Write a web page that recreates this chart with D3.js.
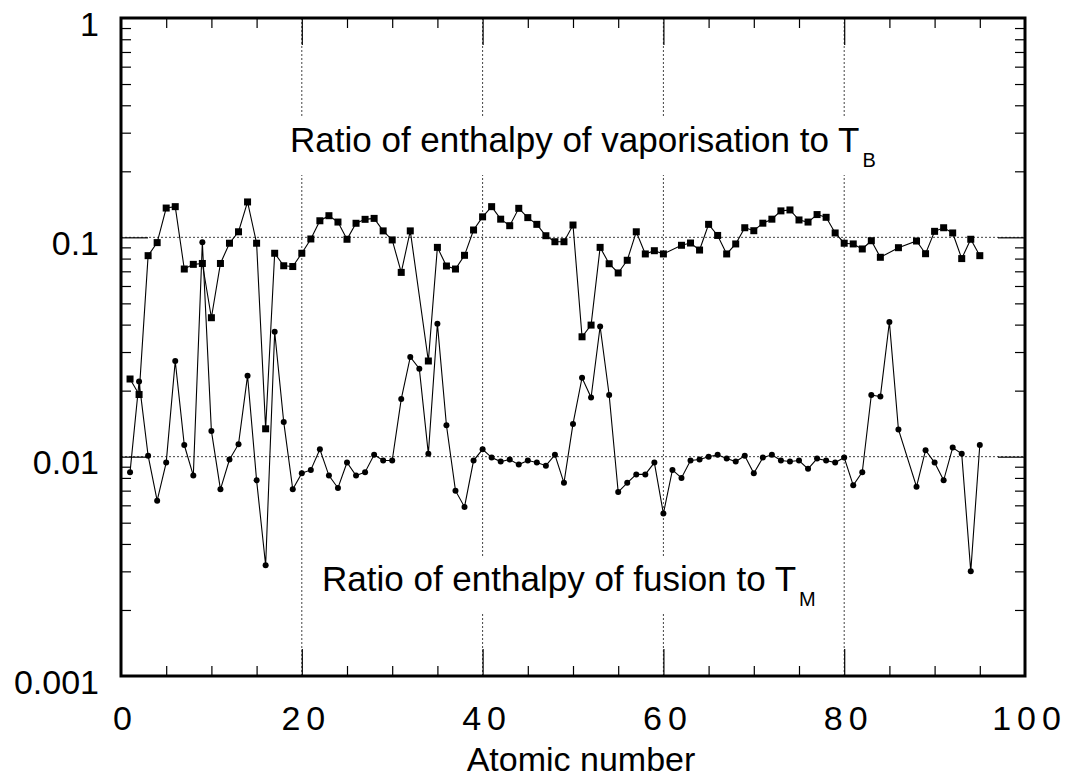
<!DOCTYPE html>
<html>
<head>
<meta charset="utf-8">
<script src="https://cdn.jsdelivr.net/npm/d3@7"></script>
<style>
  body { margin: 0; background: #fff; }
  svg text { font-family: "Liberation Sans", Arial, Helvetica, sans-serif; fill: #000; }
</style>
</head>
<body>
<div id="chart"></div>
<script>
// data
var fusionZ = [1,2,3,4,5,6,7,8,9,10,11,12,13,14,15,16,17,18,19,20,
  21,22,23,24,25,26,27,28,29,30,31,32,33,34,35,36,37,38,39,40,
  41,42,43,44,45,46,47,48,49,50,51,52,53,54,55,56,57,58,59,60,
  61,62,63,64,65,66,67,68,69,70,71,72,73,74,75,76,77,78,79,80,
  81,82,83,84,85,86,88,89,90,91,92,93,94,95];
var fusionRatio = [0.0085,0.022,0.0101,0.0063,0.0094,0.0273,0.0113,0.0082,0.095,0.0131,
  0.0071,0.0097,0.0114,0.0234,0.0078,0.0032,0.0371,0.0144,0.0071,0.0084,
  0.0087,0.0108,0.0082,0.0072,0.0094,0.0082,0.0085,0.0102,0.0096,0.0096,
  0.0183,0.0285,0.0252,0.0103,0.0404,0.0139,0.0070,0.0059,0.0096,0.0108,
  0.0099,0.0095,0.0097,0.0092,0.0096,0.0094,0.0091,0.0102,0.0076,0.0141,
  0.0229,0.0186,0.0392,0.0191,0.0069,0.0076,0.0083,0.0083,0.0094,0.0055,
  0.0087,0.0080,0.0096,0.0097,0.0100,0.0102,0.0098,0.0095,0.0101,0.0084,
  0.0099,0.0102,0.0096,0.0095,0.0096,0.0088,0.0098,0.0096,0.0094,0.0099,
  0.0074,0.0085,0.0191,0.0188,0.0411,0.0133,0.0073,0.0107,0.0094,0.0078,
  0.0110,0.0103,0.0030,0.0113];

var vapZ = [1,2,3,4,5,6,7,8,9,10,11,12,13,14,15,16,17,18,19,20,
  21,22,23,24,25,26,27,28,29,30,31,32,34,35,36,37,38,39,40,
  41,42,43,44,45,46,47,48,49,50,51,52,53,54,55,56,57,58,59,60,
  62,63,64,65,66,67,68,69,70,71,72,73,74,75,76,77,78,79,80,
  81,82,83,84,86,88,89,90,91,92,93,94,95];
var vapRatio = [0.0226,0.0192,0.0825,0.0946,0.136,0.138,0.0717,0.0753,0.0760,0.0430,
  0.0760,0.094,0.106,0.145,0.094,0.0134,0.0846,0.0742,0.0736,0.0846,
  0.0983,0.119,0.1255,0.1174,0.098,0.1159,0.1208,0.122,0.107,0.0973,
  0.0692,0.107,0.0273,0.090,0.074,0.0717,0.0828,0.108,0.124,
  0.138,0.121,0.113,0.1356,0.123,0.1146,0.1017,0.0955,0.0955,0.1138,
  0.0352,0.0398,0.090,0.0758,0.0688,0.0786,0.106,0.0840,0.0869,0.0840,
  0.092,0.0942,0.0875,0.1146,0.102,0.084,0.0933,0.1106,0.1072,0.116,
  0.121,0.132,0.1333,0.120,0.1174,0.127,0.1234,0.1047,0.094,
  0.0933,0.0885,0.0965,0.0811,0.0897,0.0962,0.0842,0.1065,0.1106,0.1047,
  0.080,0.098,0.0825];

var xMajor = [0, 20, 40, 60, 80, 100];
var xMinor = [5,10,15,25,30,35,45,50,55,65,70,75,85,90,95];
var yMajor = [1, 0.1, 0.01, 0.001];

//svg container
var svgWidth = 1068;
var svgHeight = 780;

var margin = {top: 18, right: 43, bottom: 104, left: 121};
var width = svgWidth - margin.left - margin.right;
var height = svgHeight - margin.top - margin.bottom;

var svg = d3.select("#chart")
  .append("svg")
  .attr("width", svgWidth)
  .attr("height", svgHeight);

var chartGroup = svg.append("g")
  .attr("transform", `translate(${margin.left}, ${margin.top})`);

//scales
var xScale = d3.scaleLinear().domain([0, 100]).range([0, width]);
var yScale = d3.scaleLog().domain([0.001, 1]).range([height, 0]);

// minor y ticks 2..9 per decade
var yMinor = [];
[0.001, 0.01, 0.1].forEach(function(base) {
  for (var k = 2; k <= 9; k++) yMinor.push(base * k);
});

//gridlines (dotted)
chartGroup.selectAll(".hgrid")
  .data([0.1, 0.01])
  .enter().append("line")
  .attr("x1", 0).attr("x2", width)
  .attr("y1", d => yScale(d)).attr("y2", d => yScale(d))
  .attr("stroke", "#444").attr("stroke-width", 1)
  .attr("stroke-dasharray", "2,2");

chartGroup.selectAll(".vgrid")
  .data([20, 40, 60, 80])
  .enter().append("line")
  .attr("y1", 0).attr("y2", height)
  .attr("x1", d => xScale(d)).attr("x2", d => xScale(d))
  .attr("stroke", "#444").attr("stroke-width", 1)
  .attr("stroke-dasharray", "2,2");

//tick helper, ticks point inward
function ticks(axis, transform, size) {
  var g = chartGroup.append("g")
    .attr("transform", transform)
    .call(axis.tickSize(size).tickFormat(""));
  g.select(".domain").remove();
  g.selectAll("line").attr("stroke", "#000").attr("stroke-width", 1.2);
}

ticks(d3.axisBottom(xScale).tickValues(xMinor), `translate(0, ${height})`, -10);
ticks(d3.axisTop(xScale).tickValues(xMinor), "translate(0, 0)", -10);
ticks(d3.axisBottom(xScale).tickValues([20, 40, 60, 80]), `translate(0, ${height})`, -27);
ticks(d3.axisTop(xScale).tickValues([20, 40, 60, 80]), "translate(0, 0)", -27);
ticks(d3.axisLeft(yScale).tickValues(yMinor), "translate(0, 0)", -10);
ticks(d3.axisRight(yScale).tickValues(yMinor), `translate(${width}, 0)`, -10);
ticks(d3.axisLeft(yScale).tickValues([0.1, 0.01]), "translate(0, 0)", -27);
ticks(d3.axisRight(yScale).tickValues([0.1, 0.01]), `translate(${width}, 0)`, -27);

//labelled axes
var xAxis = chartGroup.append("g")
  .attr("transform", `translate(0, ${height})`)
  .call(d3.axisBottom(xScale).tickValues(xMajor).tickSize(0).tickPadding(30).tickFormat(d3.format("d")));
xAxis.select(".domain").remove();
xAxis.selectAll("text")
  .attr("font-size", 34)
  .attr("font-family", "Liberation Sans, Arial, sans-serif")
  .attr("letter-spacing", 6)
  .attr("dx", 4);

var yAxis = chartGroup.append("g")
  .call(d3.axisLeft(yScale).tickValues(yMajor).tickSize(0).tickPadding(22)
    .tickFormat(d => d === 1 ? "1" : String(d)));
yAxis.select(".domain").remove();
yAxis.selectAll("text")
  .attr("font-size", 34)
  .attr("font-family", "Liberation Sans, Arial, sans-serif")
  .attr("dy", "0.5em");

//lines
var line = d3.line()
  .x(d => xScale(d[0]))
  .y(d => yScale(d[1]));

var vapData = vapZ.map((z, i) => [z, vapRatio[i]]);
var fusData = fusionZ.map((z, i) => [z, fusionRatio[i]]);

chartGroup.append("path")
  .datum(vapData)
  .attr("d", line)
  .attr("fill", "none").attr("stroke", "#000").attr("stroke-width", 1.1);

chartGroup.append("path")
  .datum(fusData)
  .attr("d", line)
  .attr("fill", "none").attr("stroke", "#000").attr("stroke-width", 1.1);

//markers
chartGroup.selectAll(".sq")
  .data(vapData)
  .enter().append("rect")
  .attr("x", d => xScale(d[0]) - 3.5)
  .attr("y", d => yScale(d[1]) - 3.5)
  .attr("width", 7).attr("height", 7)
  .attr("fill", "#000");

chartGroup.selectAll(".dot")
  .data(fusData)
  .enter().append("circle")
  .attr("cx", d => xScale(d[0]))
  .attr("cy", d => yScale(d[1]))
  .attr("r", 3)
  .attr("fill", "#000");

//annotations with white boxes behind
function note(x, y, main, sub) {
  var g = svg.append("g");
  var bg = g.append("rect").attr("fill", "#fff");
  var t = g.append("text")
    .attr("x", x).attr("y", y)
    .attr("font-size", 35)
    .text(main);
  t.append("tspan")
    .attr("dx", 3).attr("dy", 15)
    .attr("font-size", 20)
    .text(sub);
  var bb = t.node().getBBox();
  bg.attr("x", bb.x - 4).attr("y", bb.y - 2)
    .attr("width", bb.width + 8).attr("height", bb.height + 6);
}
note(290, 152, "Ratio of enthalpy of vaporisation to T", "B");
note(322, 591, "Ratio of enthalpy of fusion to T", "M");

//frame
chartGroup.append("rect")
  .attr("width", width).attr("height", height)
  .attr("fill", "none").attr("stroke", "#000").attr("stroke-width", 3);

//axis title
svg.append("text")
  .attr("x", 581).attr("y", 771)
  .attr("text-anchor", "middle")
  .attr("font-size", 34)
  .text("Atomic number");
</script>
</body>
</html>
